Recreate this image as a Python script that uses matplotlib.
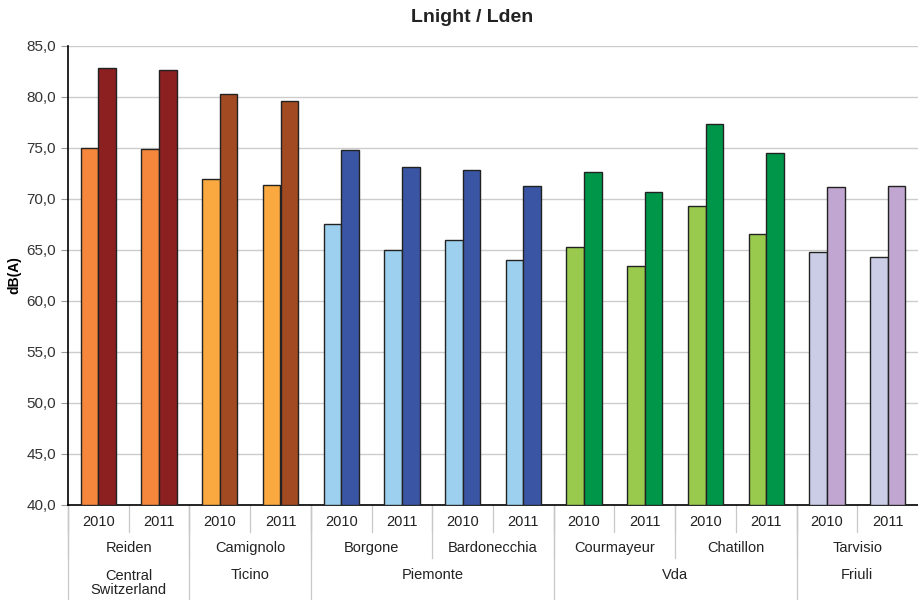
import matplotlib.pyplot as plt
from matplotlib.ticker import FuncFormatter
from matplotlib.lines import Line2D
import numpy as np

plt.rcParams['font.family'] = ['Liberation Sans', 'DejaVu Sans']

# Stations, regions and years along the x axis
stations = ['Reiden', 'Camignolo', 'Borgone', 'Bardonecchia', 'Courmayeur', 'Chatillon', 'Tarvisio']
regions = ['Central\nSwitzerland', 'Ticino', 'Piemonte', 'Vda', 'Friuli']
stations_per_region = [1, 1, 2, 2, 1]
years = ['2010', '2011']

# Noise levels in dB(A), one value per station/year
lnight = [75.0, 74.9, 72.0, 71.4, 67.5, 65.0, 66.0, 64.0, 65.3, 63.4, 69.3, 66.6, 64.8, 64.3]
lden = [82.8, 82.6, 80.3, 79.6, 74.8, 73.1, 72.8, 71.3, 72.6, 70.7, 77.4, 74.5, 71.2, 71.3]

# light / dark colour pair for each station
light_cols = ['#F5873C', '#F9A93F', '#9DCFEE', '#9DCFEE', '#99CA4D', '#99CA4D', '#CBCDE7']
dark_cols = ['#8C1F20', '#A24A22', '#3A55A4', '#3A55A4', '#00964A', '#00964A', '#C0A6D0']

n = len(lnight)
x = np.arange(n)
station_idx = np.repeat(np.arange(len(stations)), len(years))

fig = plt.figure(figsize=(9.18, 6.0), dpi=100)
ax = fig.add_axes([68 / 918, 95 / 600, 850 / 918, 459 / 600])

w = 0.29
ax.bar(x - w / 2, [v - 40 for v in lnight], bottom=40, width=w,
       color=[light_cols[i] for i in station_idx], edgecolor='#222222', linewidth=1.0, zorder=3)
ax.bar(x + w / 2, [v - 40 for v in lden], bottom=40, width=w,
       color=[dark_cols[i] for i in station_idx], edgecolor='#222222', linewidth=1.0, zorder=3)

ax.set_ylim(40, 85)
ax.set_xlim(-0.5, n - 0.5)
ax.set_yticks(np.arange(40, 85.1, 5))
ax.yaxis.set_major_formatter(FuncFormatter(lambda v, p: f'{v:.1f}'.replace('.', ',')))
ax.tick_params(axis='y', labelsize=11, labelcolor='#333333', color='#999999', length=5, width=0.8)
ax.tick_params(axis='x', length=0, labelbottom=False)
ax.grid(axis='y', color='#CCCCCC', linewidth=1.0, zorder=0)

for s in ['top', 'right']:
    ax.spines[s].set_visible(False)
ax.spines['left'].set_color('black')
ax.spines['bottom'].set_color('black')
ax.spines['left'].set_linewidth(1.2)
ax.spines['bottom'].set_linewidth(1.2)

ax.set_ylabel('dB(A)', fontsize=10, fontweight='bold', labelpad=4)
fig.text(472 / 918, 1 - 17 / 600, 'Lnight / Lden', ha='center', va='center',
         fontsize=14, fontweight='bold', color='#222222')

# multi-level category labels below the axis
tr = ax.get_xaxis_transform()
sep_col = '#C8C8C8'
y_year, y_station, y_region = -0.037, -0.094, -0.152
short, mid, full = -0.059, -0.115, -0.21


def vline(xpos, y1):
    ax.add_line(Line2D([xpos, xpos], [0, y1], transform=tr, color=sep_col,
                       linewidth=0.9, clip_on=False))


for i in range(n):
    ax.text(i, y_year, years[i % 2], transform=tr, ha='center', va='center',
            fontsize=10.5, color='#222222')
    vline(i - 0.5, short)

for j, name in enumerate(stations):
    c = j * 2 + 0.5
    ax.text(c, y_station, name, transform=tr, ha='center', va='center',
            fontsize=10.5, color='#222222')
    vline(j * 2 - 0.5, mid)

start = 0
for name, cnt in zip(regions, stations_per_region):
    left = start * 2 - 0.5
    right = (start + cnt) * 2 - 0.5
    # two-line region names sit a little lower so the first line stays in the row
    ypos = -0.169 if '\n' in name else y_region
    ax.text((left + right) / 2, ypos, name, transform=tr, ha='center', va='center',
            fontsize=10.5, color='#222222', linespacing=1.0)
    vline(left, full)
    start += cnt

fig.savefig('out.png', dpi=100)
